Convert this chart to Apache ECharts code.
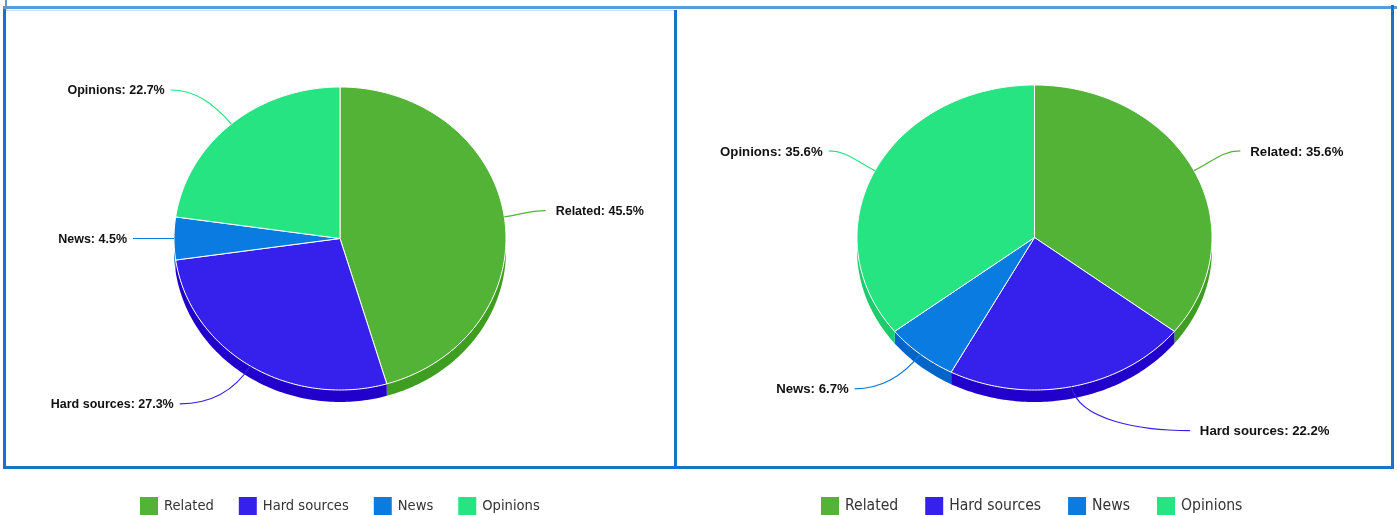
<!DOCTYPE html>
<html><head><meta charset="utf-8">
<script src="https://cdn.jsdelivr.net/npm/echarts@6/dist/echarts.min.js"></script>
<style>html,body{margin:0;padding:0;background:#fff}#c{width:1397px;height:515px}</style>
</head><body><div id="c"></div>
<script>
// ---- data ----
const categories = ['Related', 'Hard sources', 'News', 'Opinions'];
const leftValues = [10, 6, 1, 5];      // 45.5%, 27.3%, 4.5%, 22.7%
const rightValues = [16, 10, 3, 16];   // 35.6%, 22.2%, 6.7%, 35.6%

// ---- styles ----
const colors = ['#52b336', '#3521eb', '#0a7be0', '#26e482'];
const sideColors = ['#3f9e22', '#2200cc', '#0064c8', '#1ccb6b'];
const leftGeom = { cx: 340, cy: 238.5, rx: 166, ry: 151.5, depth: 12, font: 12.5 };
const rightGeom = { cx: 1034.5, cy: 237.5, rx: 177.5, ry: 152.5, depth: 12, font: 13.2 };

function makeRender(values, g) {
  const total = values.reduce((a, b) => a + b, 0);
  const rad = d => d * Math.PI / 180;
  const pt = (d, dy) => [g.cx + g.rx * Math.sin(rad(d)), g.cy - g.ry * Math.cos(rad(d)) + (dy || 0)];
  const arc = (s, e, dy) => {
    const n = Math.max(2, Math.ceil(e - s));
    const pts = [];
    for (let j = 0; j <= n; j++) pts.push(pt(s + (e - s) * j / n, dy));
    return pts;
  };
  return function (params, api) {
    const i = params.dataIndex;
    const v = api.value(0);
    let before = 0;
    for (let k = 0; k < i; k++) before += values[k];
    const a = before / total * 360, b = (before + v) / total * 360;
    const children = [];
    const s = Math.max(a, 90), e = Math.min(b, 270);
    if (e > s) {
      const top = arc(s, e, 0), bot = arc(s, e, g.depth).reverse();
      children.push({ type: 'polygon', shape: { points: top.concat(bot) }, style: { fill: sideColors[i] }, z2: 1 });
    }
    const sector = [[g.cx, g.cy]].concat(arc(a, b, 0));
    children.push({ type: 'polygon', shape: { points: sector }, style: { fill: colors[i], stroke: '#fff', lineWidth: 1, lineJoin: 'round' }, z2: 2 });
    const m = (a + b) / 2, c = Math.cos(rad(m)), sn = Math.sin(rad(m));
    const sign = sn >= 0 ? 1 : -1;
    const P = pt(m);
    const E = [g.cx + sign * (g.rx + 41 - 66 * c * c), g.cy - (g.ry + 45) * c];
    const dx = Math.abs(E[0] - P[0]);
    const k1 = Math.min(35, Math.max(8, 0.45 * dx)), k2 = 0.4 * dx;
    children.push({ type: 'bezierCurve', shape: { x1: P[0], y1: P[1], cpx1: P[0] + sn * k1, cpy1: P[1] - c * k1, cpx2: E[0] - sign * k2, cpy2: E[1], x2: E[0], y2: E[1] },
      style: { stroke: colors[i], lineWidth: 1.2, fill: null }, z2: 3 });
    children.push({ type: 'text', x: E[0] + sign * (sign > 0 ? 10 : 6), y: E[1] + 1,
      style: { text: categories[i] + ': ' + (v / total * 100).toFixed(1) + '%', fill: '#111',
        font: 'bold ' + g.font + 'px "Liberation Sans", Arial, sans-serif', align: sign > 0 ? 'left' : 'right', verticalAlign: 'middle' }, z2: 4 });
    return { type: 'group', children };
  };
}

function legendFor(left, fontSize, gap) {
  return {
    data: categories, left: left, top: 492, icon: 'rect', itemWidth: 18, itemHeight: 18, itemGap: gap,
    selectedMode: false,
    textStyle: { fontFamily: '"DejaVu Sans Condensed", "DejaVu Sans", sans-serif', fontSize: fontSize, color: '#333', padding: [3, 0, 0, 1] }
  };
}

const border = '#1a73c8';
const chart = echarts.init(document.getElementById('c'));
chart.setOption({
  animation: false,
  backgroundColor: '#fff',
  legend: [legendFor(135, 14.6, 25), legendFor(816, 15.6, 27)],
  graphic: [
    { type: 'rect', shape: { x: 3, y: 6, width: 1394, height: 3 }, style: { fill: '#5b9bd5' } },
    { type: 'rect', shape: { x: 5, y: 0, width: 2, height: 7 }, style: { fill: '#5b9bd5' } },
    { type: 'rect', shape: { x: 5, y: 10, width: 669, height: 1 }, style: { fill: '#c5dff2' } },
    { type: 'rect', shape: { x: 3, y: 9, width: 3, height: 460 }, style: { fill: border } },
    { type: 'rect', shape: { x: 3, y: 466, width: 1391, height: 3 }, style: { fill: border } },
    { type: 'rect', shape: { x: 674, y: 10, width: 3, height: 459 }, style: { fill: border } },
    { type: 'rect', shape: { x: 1391, y: 5, width: 3, height: 464 }, style: { fill: border } }
  ],
  series: categories.map((n, i) => ({
    type: 'custom', name: n, coordinateSystem: 'none', data: [], renderItem: () => null,
    itemStyle: { color: colors[i] }
  })).concat([
    { type: 'custom', name: 'leftPie', coordinateSystem: 'none', silent: true,
      data: leftValues.map(v => [v]), renderItem: makeRender(leftValues, leftGeom) },
    { type: 'custom', name: 'rightPie', coordinateSystem: 'none', silent: true,
      data: rightValues.map(v => [v]), renderItem: makeRender(rightValues, rightGeom) }
  ])
});
</script></body></html>
